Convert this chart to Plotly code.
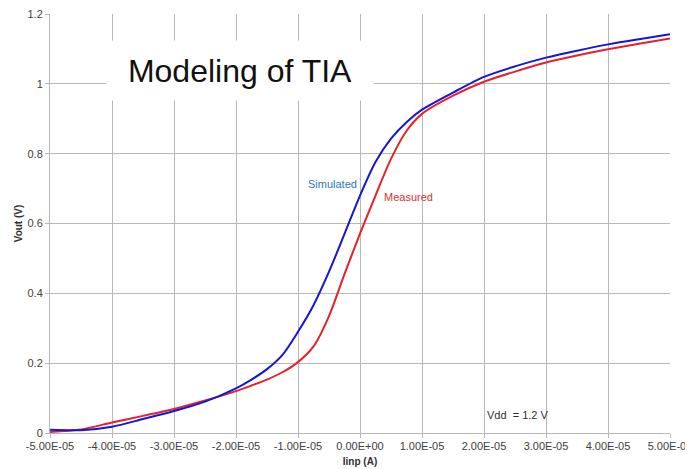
import plotly.graph_objects as go

# Input current in units of 1e-5 A
iinp_units = [-5, -4.5, -4, -3.5, -3, -2.5, -2, -1.75, -1.5, -1.25, -1, -0.75, -0.5, -0.25,
              0, 0.25, 0.5, 0.75, 1, 1.5, 2, 2.5, 3, 3.5, 4, 4.5, 5]
iinp = [u * 1e-5 for u in iinp_units]

vout_simulated = [0.009, 0.008, 0.018, 0.040, 0.063, 0.090, 0.128, 0.153, 0.183, 0.224, 0.290,
                  0.366, 0.462, 0.570, 0.680, 0.776, 0.843, 0.890, 0.926, 0.975, 1.020, 1.050,
                  1.075, 1.095, 1.113, 1.128, 1.142]
vout_measured = [0.003, 0.010, 0.030, 0.049, 0.069, 0.093, 0.120, 0.136, 0.153, 0.174, 0.203,
                 0.248, 0.335, 0.455, 0.571, 0.680, 0.785, 0.865, 0.914, 0.966, 1.006, 1.035,
                 1.061, 1.081, 1.099, 1.115, 1.130]

x_tickvals = [-5e-5, -4e-5, -3e-5, -2e-5, -1e-5, 0, 1e-5, 2e-5, 3e-5, 4e-5, 5e-5]
x_ticktext = ["-5.00E-05", "-4.00E-05", "-3.00E-05", "-2.00E-05", "-1.00E-05", "0.00E+00",
              "1.00E-05", "2.00E-05", "3.00E-05", "4.00E-05", "5.00E-05"]
y_tickvals = [0, 0.2, 0.4, 0.6, 0.8, 1.0, 1.2]
y_ticktext = ["0", "0.2", "0.4", "0.6", "0.8", "1", "1.2"]

FONT = "Liberation Sans, Arial, sans-serif"
GRID = "#b8b8b8"

fig = go.Figure()
fig.add_trace(go.Scatter(x=iinp, y=vout_measured, mode="lines", name="Measured",
                         line=dict(color="#e8202a", width=2, shape="spline", smoothing=0.8),
                         showlegend=False))
fig.add_trace(go.Scatter(x=iinp, y=vout_simulated, mode="lines", name="Simulated",
                         line=dict(color="#1515d8", width=2, shape="spline", smoothing=0.8),
                         showlegend=False))

# page body has an 8px default margin, so the figure is sized/offset to compensate
fig.update_layout(
    width=685, height=461,
    margin=dict(l=42, r=23, t=6, b=36),
    paper_bgcolor="white", plot_bgcolor="white",
    font=dict(family=FONT, size=11, color="#404040"),
    xaxis=dict(range=[-5e-5, 5e-5], tickvals=x_tickvals, ticktext=x_ticktext,
               showgrid=True, gridcolor=GRID, gridwidth=1, zeroline=False, automargin=False,
               showline=True, linecolor=GRID, ticks="outside", ticklen=4, tickcolor=GRID,
               ticklabelstandoff=-1, ticklabeloverflow="allow",
               tickfont=dict(size=11, color="#404040"),
               title=dict(text="<b>Iinp (A)</b>", font=dict(size=10, color="#303030"), standoff=6)),
    yaxis=dict(range=[0, 1.2], tickvals=y_tickvals, ticktext=y_ticktext,
               showgrid=True, gridcolor=GRID, gridwidth=1, zeroline=False, automargin=False,
               showline=True, linecolor=GRID, ticks="outside", ticklen=4, tickcolor=GRID,
               ticklabeloverflow="allow",
               tickfont=dict(size=11, color="#404040"),
               title=dict(text="<b>Vout (V)</b>", font=dict(size=10, color="#303030"), standoff=3)),
)

fig.add_annotation(xref="paper", yref="paper", x=0.3065, y=0.866, xanchor="center", yanchor="middle",
                   text="Modeling of TIA", showarrow=False, bgcolor="white", borderpad=0,
                   width=266, height=59, font=dict(family=FONT, size=32, color="#111111"))
fig.add_annotation(xref="x", yref="y", x=-0.44e-5, y=0.713, xanchor="center", yanchor="middle",
                   text="Simulated", showarrow=False, font=dict(size=11, color="#2a7ab8"))
fig.add_annotation(xref="x", yref="y", x=0.78e-5, y=0.675, xanchor="center", yanchor="middle",
                   text="Measured", showarrow=False, font=dict(size=11, color="#e03030"))
fig.add_annotation(xref="x", yref="y", x=2.02e-5, y=0.052, xanchor="left", yanchor="middle",
                   text="Vdd  = 1.2 V", showarrow=False, font=dict(size=11, color="#303030"))

fig.write_html("out.html")
